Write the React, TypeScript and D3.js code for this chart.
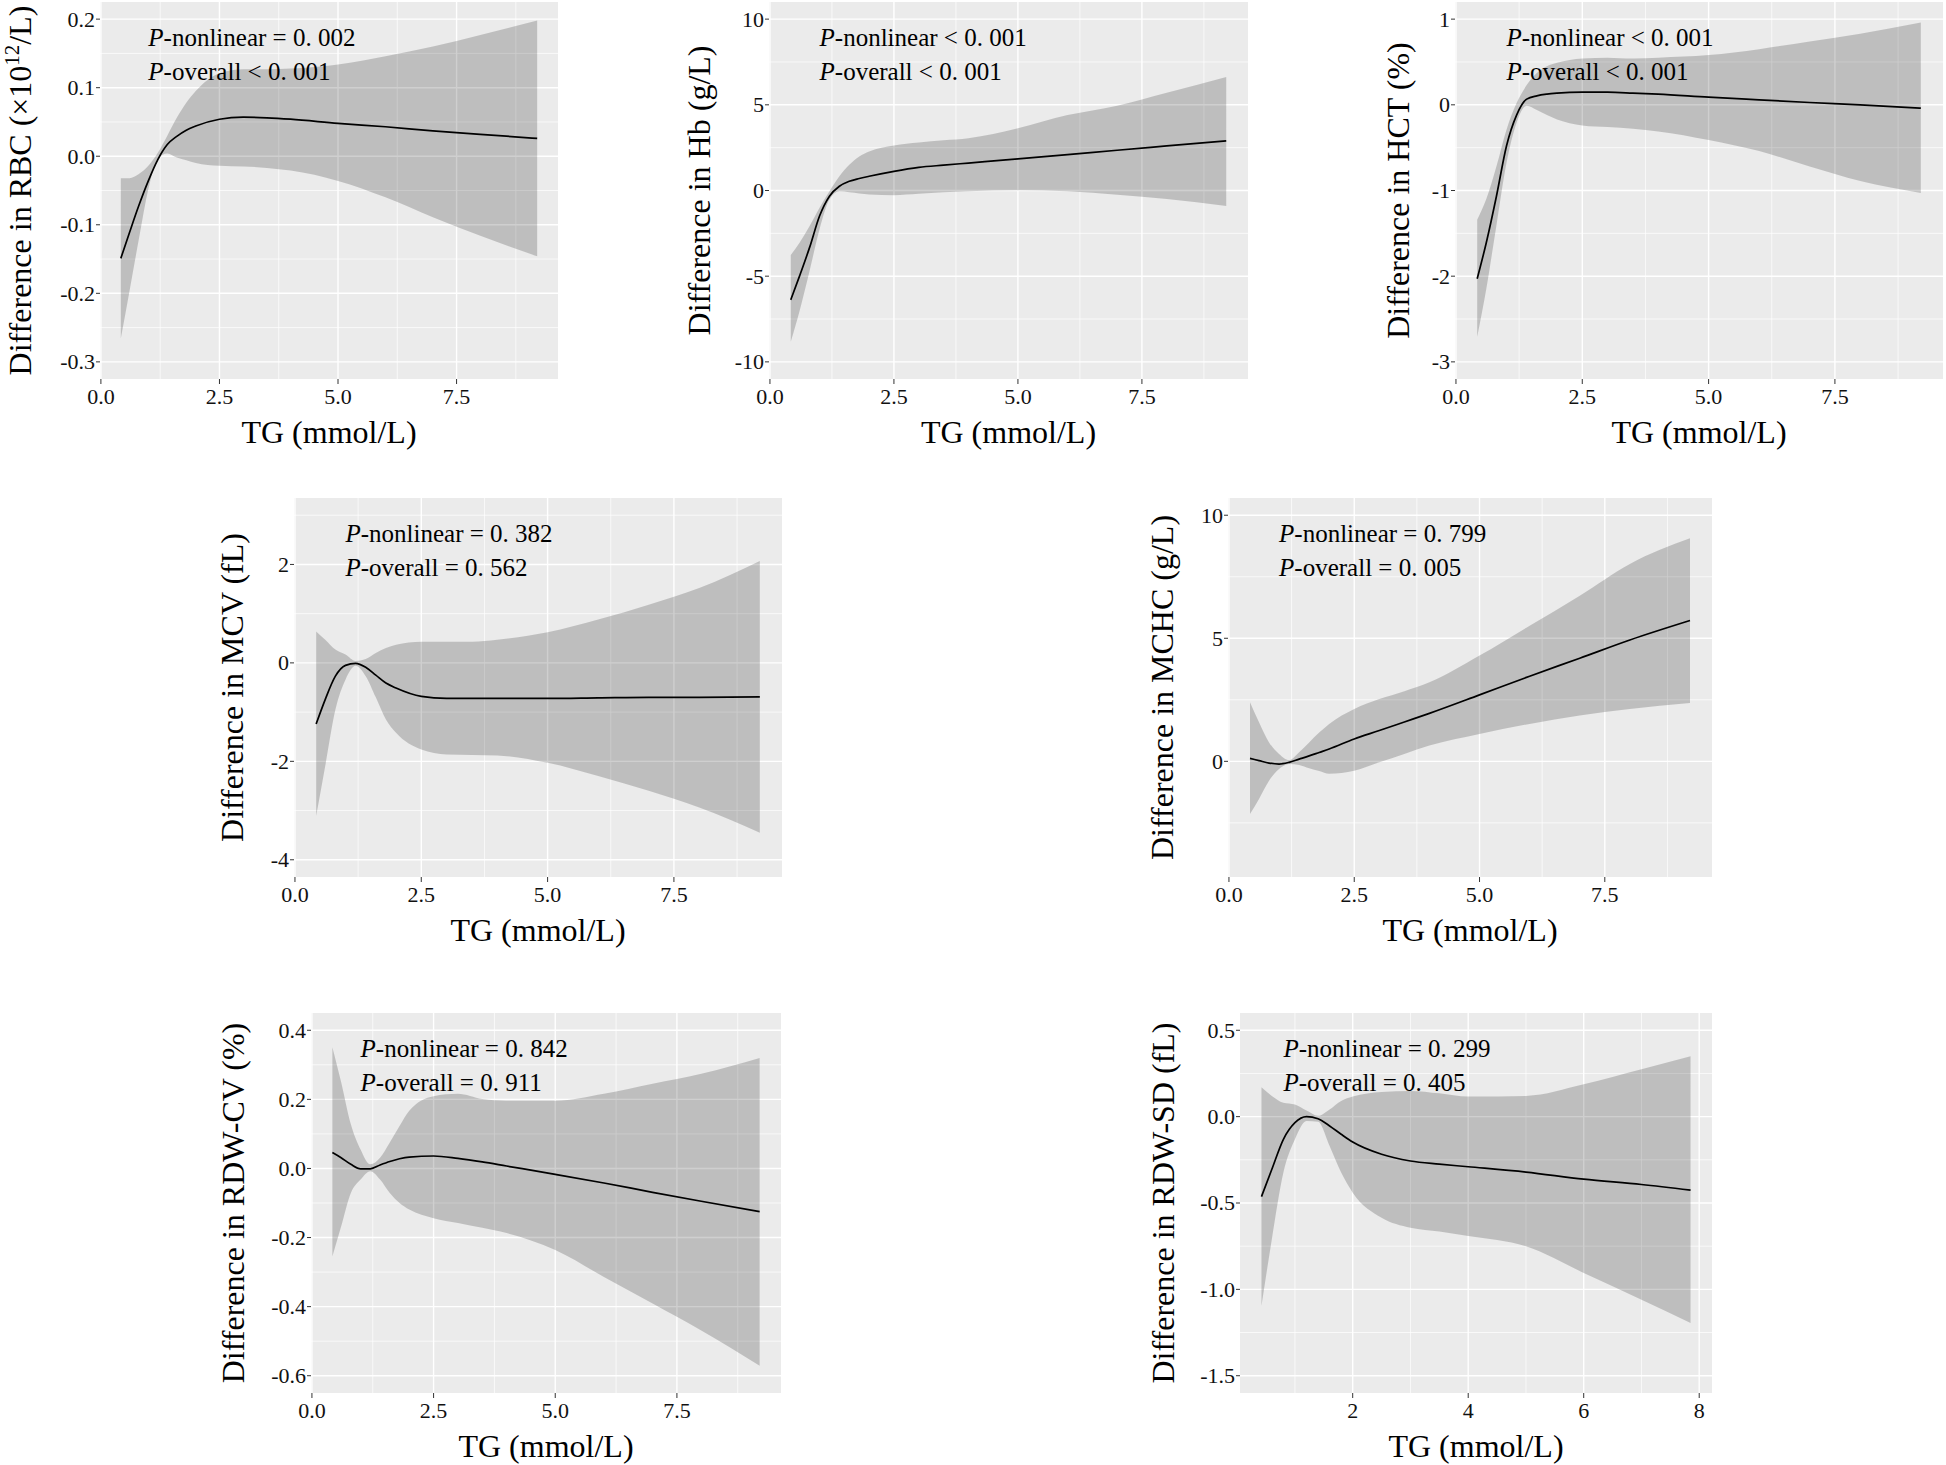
import React from 'react';
import * as d3 from 'd3';

const TG = [0.42, 0.6, 0.8, 1.0, 1.2, 1.4, 1.6, 1.8, 2.0, 2.5, 3.0, 3.5, 4.0, 5.0, 6.0, 7.0, 8.0, 9.2];
const TG_SD = [0.42, 0.6, 0.8, 1.0, 1.2, 1.4, 1.6, 1.8, 2.0, 2.5, 3.0, 3.5, 4.0, 5.0, 6.0, 7.0, 7.85];

const rbcFit = [-0.149, -0.112, -0.072, -0.036, -0.005, 0.017, 0.029, 0.038, 0.044, 0.054, 0.057, 0.056, 0.054, 0.048, 0.043, 0.037, 0.032, 0.026];
const rbcHi = [-0.032, -0.032, -0.026, -0.014, 0.005, 0.03, 0.056, 0.078, 0.095, 0.121, 0.127, 0.127, 0.128, 0.134, 0.146, 0.16, 0.177, 0.198];
const rbcLo = [-0.266, -0.198, -0.121, -0.048, -0.004, 0.004, -0.002, -0.006, -0.01, -0.014, -0.015, -0.017, -0.021, -0.036, -0.06, -0.089, -0.116, -0.146];

const hbFit = [-6.38, -4.97, -3.32, -1.49, -0.33, 0.25, 0.54, 0.7, 0.83, 1.12, 1.35, 1.48, 1.6, 1.84, 2.09, 2.35, 2.6, 2.9];
const hbHi = [-3.77, -3.03, -2.07, -1.0, -0.04, 0.83, 1.5, 1.99, 2.28, 2.63, 2.8, 2.93, 3.05, 3.63, 4.4, 4.95, 5.7, 6.63];
const hbLo = [-8.83, -7.0, -4.68, -2.26, -0.52, -0.04, -0.1, -0.17, -0.23, -0.27, -0.19, -0.1, -0.04, 0.02, -0.04, -0.25, -0.5, -0.9];

const hctFit = [-2.03, -1.61, -1.07, -0.48, -0.12, 0.066, 0.105, 0.125, 0.136, 0.147, 0.147, 0.137, 0.124, 0.089, 0.058, 0.027, 0, -0.039];
const hctHi = [-1.34, -1.1, -0.72, -0.29, 0.02, 0.23, 0.37, 0.45, 0.49, 0.54, 0.55, 0.54, 0.55, 0.58, 0.65, 0.74, 0.83, 0.96];
const hctLo = [-2.71, -2.15, -1.41, -0.68, -0.21, -0.01, -0.06, -0.12, -0.17, -0.24, -0.26, -0.28, -0.31, -0.41, -0.54, -0.72, -0.89, -1.03];

const mcvFit = [-1.24, -0.74, -0.27, -0.05, -0.01, -0.09, -0.25, -0.41, -0.51, -0.68, -0.72, -0.72, -0.72, -0.72, -0.71, -0.7, -0.7, -0.69];
const mcvHi = [0.64, 0.47, 0.27, 0.17, 0.04, 0.08, 0.2, 0.3, 0.37, 0.43, 0.43, 0.43, 0.47, 0.62, 0.88, 1.18, 1.52, 2.07];
const mcvLo = [-3.11, -2.09, -0.95, -0.34, -0.06, -0.27, -0.7, -1.15, -1.42, -1.76, -1.86, -1.87, -1.88, -2.03, -2.3, -2.6, -2.94, -3.45];

const mchcFit = [0.12, 0.03, -0.07, -0.11, -0.04, 0.09, 0.22, 0.36, 0.5, 0.91, 1.25, 1.6, 1.95, 2.7, 3.46, 4.19, 4.93, 5.72];
const mchcHi = [2.4, 1.59, 0.77, 0.3, 0.05, 0.37, 0.77, 1.17, 1.52, 2.13, 2.53, 2.85, 3.21, 4.3, 5.51, 6.73, 8.02, 9.06];
const mchcLo = [-2.14, -1.53, -0.79, -0.31, -0.11, -0.15, -0.28, -0.39, -0.5, -0.38, -0.04, 0.3, 0.64, 1.11, 1.52, 1.86, 2.13, 2.37];

const cvFit = [0.046, 0.031, 0.012, -0.001, -0.001, 0.01, 0.02, 0.028, 0.033, 0.036, 0.029, 0.019, 0.007, -0.017, -0.042, -0.069, -0.095, -0.125];
const cvHi = [0.351, 0.25, 0.128, 0.055, 0.012, 0.031, 0.075, 0.123, 0.167, 0.209, 0.216, 0.201, 0.196, 0.196, 0.216, 0.245, 0.274, 0.32];
const cvLo = [-0.255, -0.168, -0.071, -0.032, -0.008, -0.032, -0.071, -0.1, -0.119, -0.144, -0.158, -0.172, -0.187, -0.236, -0.314, -0.391, -0.469, -0.571];

const sdFit = [-0.463, -0.305, -0.131, -0.035, 0, -0.012, -0.054, -0.102, -0.147, -0.218, -0.257, -0.275, -0.29, -0.321, -0.362, -0.393, -0.426];
const sdHi = [0.17, 0.12, 0.08, 0.07, 0.035, 0.005, 0.042, 0.091, 0.116, 0.143, 0.149, 0.135, 0.116, 0.12, 0.187, 0.274, 0.35];
const sdLo = [-1.097, -0.71, -0.324, -0.131, -0.025, -0.03, -0.17, -0.324, -0.44, -0.585, -0.643, -0.665, -0.691, -0.751, -0.905, -1.06, -1.195];

const yTitles = ['RBC', 'Hb (g/L)', 'HCT (%)', 'MCV (fL)', 'MCHC (g/L)', 'RDW-CV (%)', 'RDW-SD (fL)'];
const pNonlinear = ['= 0. 002', '< 0. 001', '< 0. 001', '= 0. 382', '= 0. 799', '= 0. 842', '= 0. 299'];
const pOverall = ['< 0. 001', '< 0. 001', '< 0. 001', '= 0. 562', '= 0. 005', '= 0. 911', '= 0. 405'];

const yTicks = [
  [-0.3, -0.2, -0.1, 0, 0.1, 0.2],
  [-10, -5, 0, 5, 10],
  [-3, -2, -1, 0, 1],
  [-4, -2, 0, 2],
  [0, 5, 10],
  [-0.6, -0.4, -0.2, 0, 0.2, 0.4],
  [-1.5, -1, -0.5, 0, 0.5],
];
const yLimits = [[-0.3, 0.2], [-10, 10], [-3, 1], [-4, 3], [-4, 10], [-0.6, 0.4], [-1.5, 0.5]];
const yFormats = ['.1f', 'd', 'd', 'd', 'd', '.1f', '.1f'];
const xTicksMain = [0, 2.5, 5, 7.5];
const xTicksSD = [2, 4, 6, 8];
const annotX = [1, 1, 1, 1, 1, 1, 0.8];

const series = [
  { x: TG, fit: rbcFit, lo: rbcLo, hi: rbcHi },
  { x: TG, fit: hbFit, lo: hbLo, hi: hbHi },
  { x: TG, fit: hctFit, lo: hctLo, hi: hctHi },
  { x: TG, fit: mcvFit, lo: mcvLo, hi: mcvHi },
  { x: TG, fit: mchcFit, lo: mchcLo, hi: mchcHi },
  { x: TG, fit: cvFit, lo: cvLo, hi: cvHi },
  { x: TG_SD, fit: sdFit, lo: sdLo, hi: sdHi },
];

// panel boxes on the page (px)
const boxes = [
  { left: 100, right: 558, top: 2, bottom: 379, titleX: 31 },
  { left: 769, right: 1248, top: 2, bottom: 379, titleX: 710 },
  { left: 1455, right: 1943, top: 2, bottom: 379, titleX: 1409 },
  { left: 294, right: 782, top: 498, bottom: 877, titleX: 243 },
  { left: 1228, right: 1712, top: 498, bottom: 877, titleX: 1173 },
  { left: 311, right: 781, top: 1013, bottom: 1393, titleX: 244 },
  { left: 1240, right: 1712, top: 1013, bottom: 1393, titleX: 1174 },
];

const FONT = '"Liberation Serif", "Times New Roman", serif';
const BG = '#EBEBEB';

const expand = ([a, b]: number[]) => {
  const pad = (b - a) * 0.05;
  return [a - pad, b + pad];
};

const minorBreaks = (ticks: number[], dom: number[]) => {
  const step = ticks[1] - ticks[0];
  const out: number[] = [];
  for (let i = -1; i < ticks.length; i++) {
    const v = ticks[0] + (i + 0.5) * step;
    if (v > dom[0] && v < dom[1]) out.push(v);
  }
  return out;
};

const Panel = ({ i }: { i: number }) => {
  const s = series[i];
  const b = boxes[i];
  const xDom = expand(d3.extent(s.x) as number[]);
  const yDom = expand(yLimits[i]);
  const x = d3.scaleLinear().domain(xDom).range([b.left, b.right]);
  const y = d3.scaleLinear().domain(yDom).range([b.bottom, b.top]);
  const xt = i === 6 ? xTicksSD : xTicksMain;
  const xFmt = d3.format(i === 6 ? 'd' : '.1f');
  const yFmt = d3.format(yFormats[i]);
  const fmtY = (v: number) => yFmt(v).replace('−', '-');

  const pts = s.x.map((v, k) => ({ x: v, fit: s.fit[k], lo: s.lo[k], hi: s.hi[k] }));
  const area = d3.area<any>().x(d => x(d.x)).y0(d => y(d.lo)).y1(d => y(d.hi)).curve(d3.curveMonotoneX);
  const line = d3.line<any>().x(d => x(d.x)).y(d => y(d.fit)).curve(d3.curveMonotoneX);

  const yMid = (b.top + b.bottom) / 2;
  const xMid = (b.left + b.right) / 2;
  const clipId = `clip${i}`;

  return (
    <g>
      <defs>
        <clipPath id={clipId}>
          <rect x={b.left} y={b.top} width={b.right - b.left} height={b.bottom - b.top} />
        </clipPath>
      </defs>
      <rect x={b.left} y={b.top} width={b.right - b.left} height={b.bottom - b.top} fill={BG} />
      {minorBreaks(yTicks[i], yDom).map(v => (
        <line key={'ym' + v} x1={b.left} x2={b.right} y1={y(v)} y2={y(v)} stroke="#fff" strokeWidth={0.7} />
      ))}
      {minorBreaks(xt, xDom).map(v => (
        <line key={'xm' + v} x1={x(v)} x2={x(v)} y1={b.top} y2={b.bottom} stroke="#fff" strokeWidth={0.7} />
      ))}
      {yTicks[i].map(v => (
        <line key={'yg' + v} x1={b.left} x2={b.right} y1={y(v)} y2={y(v)} stroke="#fff" strokeWidth={1.4} />
      ))}
      {xt.map(v => (
        <line key={'xg' + v} x1={x(v)} x2={x(v)} y1={b.top} y2={b.bottom} stroke="#fff" strokeWidth={1.4} />
      ))}
      <g clipPath={`url(#${clipId})`}>
        <path d={area(pts) || ''} fill="#000" fillOpacity={0.19} />
        <path d={line(pts) || ''} fill="none" stroke="#000" strokeWidth={1.7} />
      </g>

      {/* axes */}
      {yTicks[i].map(v => (
        <g key={'yt' + v}>
          <line x1={b.left - 4} x2={b.left} y1={y(v)} y2={y(v)} stroke="#333" strokeWidth={1} />
          <text x={b.left - 5} y={y(v)} dy="0.34em" textAnchor="end" fontSize={22} fill="#111">
            {fmtY(v)}
          </text>
        </g>
      ))}
      {xt.map(v => (
        <g key={'xt' + v}>
          <line x1={x(v)} x2={x(v)} y1={b.bottom} y2={b.bottom + 5} stroke="#333" strokeWidth={1} />
          <text x={x(v)} y={b.bottom + 25} textAnchor="middle" fontSize={22} fill="#111">
            {xFmt(v)}
          </text>
        </g>
      ))}

      <text x={xMid} y={b.bottom + 64} textAnchor="middle" fontSize={32} fill="#000">
        TG (mmol/L)
      </text>
      <text
        transform={`translate(${b.titleX},${yMid}) rotate(-90)`}
        textAnchor="middle"
        fontSize={32}
        fill="#000"
      >
        {i === 0 ? (
          <>
            Difference in RBC (×10
            <tspan fontSize={21} dy={-12}>12</tspan>
            <tspan dy={12}>/L)</tspan>
          </>
        ) : (
          `Difference in ${yTitles[i]}`
        )}
      </text>

      <text x={x(annotX[i])} y={b.top + 44} fontSize={25} fill="#000">
        <tspan fontStyle="italic">P</tspan>
        {`-nonlinear ${pNonlinear[i]}`}
      </text>
      <text x={x(annotX[i])} y={b.top + 78} fontSize={25} fill="#000">
        <tspan fontStyle="italic">P</tspan>
        {`-overall ${pOverall[i]}`}
      </text>
    </g>
  );
};

export default function App() {
  return (
    <svg
      width={1946}
      height={1465}
      style={{ position: 'absolute', left: 0, top: 0, background: '#fff', fontFamily: FONT }}
    >
      <rect width={1946} height={1465} fill="#fff" />
      {series.map((_, i) => (
        <Panel key={i} i={i} />
      ))}
    </svg>
  );
}
